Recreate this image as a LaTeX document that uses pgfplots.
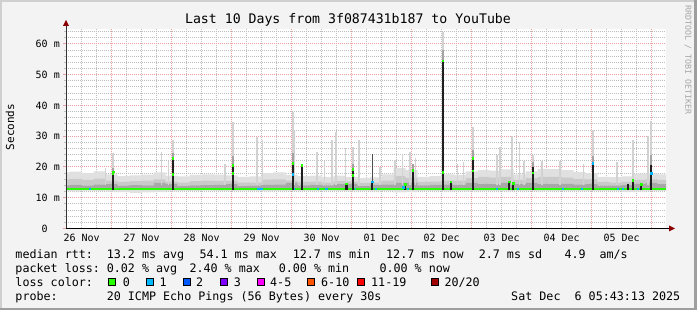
\documentclass[border=0pt]{standalone}
\usepackage{fontspec}
\setmainfont{DejaVu Sans Mono}
\usepackage{pgfplots}
\pgfplotsset{compat=1.18}
\usepackage{pgfplotstable}

\definecolor{bgc}{HTML}{F3F3F3}
\definecolor{shadeA}{HTML}{CFCFCF}
\definecolor{shadeB}{HTML}{9E9E9E}
\definecolor{mgrid}{HTML}{E8A0A0}
\definecolor{mingrid}{HTML}{BEBEBE}
\definecolor{arrowc}{HTML}{8B0000}
\definecolor{smokeA}{HTML}{E0E0E0}
\definecolor{smokeB}{HTML}{CACACA}
\definecolor{smokeC}{HTML}{A8A8A8}
\definecolor{spikeL}{HTML}{D2D2D2}
\definecolor{spikeD}{HTML}{A4A4A4}
\definecolor{lc0}{HTML}{26FF00}
\definecolor{lc1}{HTML}{00B8FF}
\definecolor{lc2}{HTML}{0059FF}
\definecolor{lc3}{HTML}{7E00FF}
\definecolor{lc4}{HTML}{FF00FF}
\definecolor{lc6}{HTML}{FF5500}
\definecolor{lc11}{HTML}{FF0000}
\definecolor{lc20}{HTML}{A10000}

\pgfplotstableread{
x    lo1   base  hi1   hi2   hi3
0.2  12.2  12.5  18.2  16.0  14.0
0.4  12.1  12.5  18.5  16.2  14.2
0.6  12.3  12.5  18.0  15.8  13.9
0.8  12.2  12.5  18.6  16.3  14.3
1.0  12.0  12.5  17.6  15.6  14.6
1.2  11.8  12.5  17.0  15.2  13.9
1.4  11.6  12.5  17.3  15.4  14.1
1.6  11.7  12.5  17.5  15.6  14.0
1.8  11.9  12.5  18.2  16.0  14.8
2.0  12.1  12.5  17.2  15.3  14.5
2.2  12.2  12.5  16.9  15.0  13.8
2.4  12.2  12.5  17.4  15.4  14.0
2.6  12.3  12.5  17.6  15.6  14.1
2.8  12.2  12.5  17.5  15.5  14.2
3.0  12.2  12.5  17.3  15.5  14.6
3.2  12.3  12.5  16.8  15.0  13.8
3.4  12.2  12.5  16.9  15.0  13.9
3.6  12.1  12.5  18.0  15.9  14.2
3.8  12.2  12.5  18.2  16.0  14.3
4.0  12.2  12.5  17.4  15.6  14.8
4.2  12.2  12.5  17.0  15.2  14.0
4.4  12.2  12.5  17.2  15.3  14.2
4.6  12.3  12.5  16.8  15.0  14.0
4.8  12.2  12.5  17.2  15.4  14.4
5.0  12.1  12.5  16.8  15.3  14.5
5.2  12.2  12.5  16.4  14.8  13.8
5.4  12.1  12.5  16.6  15.0  14.2
5.6  12.2  12.5  17.6  15.6  14.3
5.8  11.7  12.5  19.6  17.0  14.8
6.0  11.8  12.5  19.0  16.5  15.0
6.2  12.2  12.5  16.8  15.2  14.0
6.4  12.2  12.5  17.0  15.3  14.2
6.6  12.1  12.5  17.6  15.6  14.3
6.8  12.2  12.5  17.4  15.6  14.2
7.0  12.1  12.5  18.6  16.4  14.8
7.2  12.2  12.5  19.0  16.8  14.6
7.4  12.2  12.5  18.8  16.6  14.6
7.6  12.1  12.5  19.2  16.8  14.8
7.8  12.2  12.5  17.6  15.8  14.4
8.0  12.2  12.5  18.6  16.4  14.8
8.2  12.1  12.5  19.4  16.8  14.6
8.4  12.2  12.5  19.3  16.8  14.6
8.6  12.2  12.5  19.0  16.6  14.5
8.8  12.2  12.5  18.3  16.2  14.3
9.0  12.2  12.5  18.0  16.0  14.6
9.2  12.2  12.5  16.8  15.2  13.9
9.4  12.2  12.5  16.7  15.0  13.9
9.6  11.9  12.5  16.9  15.2  14.1
9.8  12.0  12.5  17.8  15.8  14.6
10.0 12.2  12.5  17.9  16.0  14.8
10.2 12.2  12.5  17.6  15.8  14.4
10.4 12.2  12.5  17.6  15.8  14.4
}\smoke

\newcommand{\lf}{\fontsize{11.7}{14}\selectfont}
\pgfplotsset{frameaxis/.style={
  at={(66pt,81.5pt)}, anchor=south west,
  scale only axis, width=600pt, height=200pt,
  xmin=0.2386, xmax=10.2386, ymin=0, ymax=65, clip=true}}

\begin{document}
\begin{tikzpicture}
\fill[bgc] (0pt,0pt) rectangle (697pt,310pt);
\fill[shadeA] (0pt,0pt) rectangle (2pt,310pt);
\fill[shadeA] (0pt,308pt) rectangle (697pt,310pt);
\fill[shadeB] (694pt,0pt) rectangle (697pt,310pt);
\fill[shadeB] (0pt,0pt) rectangle (697pt,2pt);

\begin{axis}[frameaxis,
  axis line style={draw=none},
  axis background/.style={fill=white},
  tick pos=left, tick align=outside,
  xtick={0.5,1.5,...,9.5},
  xticklabels={26 Nov,27 Nov,28 Nov,29 Nov,30 Nov,01 Dec,02 Dec,03 Dec,04 Dec,05 Dec},
  xtick style={draw=none},
  xmajorgrids=false, xminorgrids=true,
  minor xtick={0.25,0.5,0.75,1.25,1.5,1.75,2.25,2.5,2.75,3.25,3.5,3.75,4.25,4.5,4.75,5.25,5.5,5.75,6.25,6.5,6.75,7.25,7.5,7.75,8.25,8.5,8.75,9.25,9.5,9.75,10.25},
  extra x ticks={1,2,3,4,5,6,7,8,9,10},
  extra x tick labels={},
  extra x tick style={grid=major, major tick length=3pt, tick style={mgrid, line width=1pt}},
  ytick={0,10,20,30,40,50,60},
  yticklabels={0\phantom{ m},10 m,20 m,30 m,40 m,50 m,60 m},
  minor ytick={2,4,6,8,12,14,16,18,22,24,26,28,32,34,36,38,42,44,46,48,52,54,56,58,62,64},
  ymajorgrids=true, yminorgrids=true,
  major tick length=3pt, minor tick length=2pt,
  ytick style={mgrid, line width=1pt},
  minor y tick style={mingrid},
  major grid style={mgrid, line width=1pt, dash pattern=on 1pt off 1pt},
  minor grid style={mingrid, line width=1pt, dash pattern=on 1pt off 1pt},
  xticklabel style={font=\fontsize{10}{12}\selectfont, anchor=base, inner sep=0pt, yshift=-9.8pt},
  yticklabel style={font=\fontsize{10}{12}\selectfont, anchor=east, inner sep=0pt, xshift=-3pt},
  stack plots=y,
]
\addplot[draw=none, const plot mark mid] table[x=x,y=lo1]{\smoke};
\addplot[fill=smokeA, draw=none, const plot mark mid] table[x=x, y expr=\thisrow{base}-\thisrow{lo1}]{\smoke} \closedcycle;
\addplot[fill=smokeC, draw=none, const plot mark mid] table[x=x, y expr=\thisrow{hi3}-\thisrow{base}]{\smoke} \closedcycle;
\addplot[fill=smokeB, draw=none, const plot mark mid] table[x=x, y expr=\thisrow{hi2}-\thisrow{hi3}]{\smoke} \closedcycle;
\addplot[fill=smokeA, draw=none, const plot mark mid] table[x=x, y expr=\thisrow{hi1}-\thisrow{hi2}]{\smoke} \closedcycle;
\end{axis}

\begin{axis}[frameaxis, hide axis]
\addplot[spikeL, line width=1.5pt, unbounded coords=jump] coordinates {
(0.90,14)(0.90,19.5)(0.90,nan)
(1.018,14)(1.018,24.4)(1.018,nan)
(1.83,14)(1.83,24.9)(1.83,nan)
(1.95,14)(1.95,22)(1.95,nan)
(2.018,14)(2.018,28.7)(2.018,nan)
(2.89,14)(2.89,21)(2.89,nan)
(3.018,14)(3.018,34.5)(3.018,nan)
(3.42,14)(3.42,29.8)(3.42,nan)
(3.51,14)(3.51,28.7)(3.51,nan)
(4.018,14)(4.018,38.0)(4.018,nan)
(4.05,14)(4.05,32)(4.05,nan)
(4.42,14)(4.42,24.9)(4.42,nan)
(4.55,14)(4.55,22)(4.55,nan)
(4.67,14)(4.67,28.7)(4.67,nan)
(4.74,14)(4.74,31.5)(4.74,nan)
(4.90,14)(4.90,26.3)(4.90,nan)
(5.018,14)(5.018,26.6)(5.018,nan)
(5.12,14)(5.12,28.7)(5.12,nan)
(5.47,14)(5.47,20)(5.47,nan)
(5.72,14)(5.72,22.2)(5.72,nan)
(5.85,14)(5.85,24.2)(5.85,nan)
(5.97,14)(5.97,24.9)(5.97,nan)
(6.06,14)(6.06,23)(6.06,nan)
(6.518,14)(6.518,64)(6.518,nan)
(6.76,14)(6.76,21)(6.76,nan)
(6.86,14)(6.86,21.5)(6.86,nan)
(7.018,14)(7.018,33)(7.018,nan)
(7.42,14)(7.42,24)(7.42,nan)
(7.47,14)(7.47,26.6)(7.47,nan)
(7.67,14)(7.67,30)(7.67,nan)
(7.80,14)(7.80,28)(7.80,nan)
(7.87,14)(7.87,22)(7.87,nan)
(8.018,14)(8.018,23.9)(8.018,nan)
(8.17,14)(8.17,22)(8.17,nan)
(8.47,14)(8.47,22)(8.47,nan)
(8.86,14)(8.86,21)(8.86,nan)
(9.018,14)(9.018,32)(9.018,nan)
(9.42,14)(9.42,21.5)(9.42,nan)
(9.685,14)(9.685,28.7)(9.685,nan)
(9.94,14)(9.94,30)(9.94,nan)
(9.99,14)(9.99,35)(9.99,nan)
};
\addplot[spikeD, line width=2pt, unbounded coords=jump] coordinates {
(1.018,14)(1.018,19.8)(1.018,nan)
(2.018,14)(2.018,24.5)(2.018,nan)
(3.018,14)(3.018,23.5)(3.018,nan)
(4.018,14)(4.018,24.5)(4.018,nan)
(5.018,14)(5.018,21)(5.018,nan)
(6.017,14)(6.017,20.8)(6.017,nan)
(6.518,14)(6.518,58)(6.518,nan)
(7.018,14)(7.018,25.5)(7.018,nan)
(8.018,14)(8.018,21.5)(8.018,nan)
(9.018,14)(9.018,23.5)(9.018,nan)
(9.99,14)(9.99,24)(9.99,nan)
};
\addplot[black!70, line width=1pt] coordinates {(5.342,15)(5.342,24.2)};

\addplot[lc0, line width=2.2pt] coordinates {(0.2386,12.9)(10.2386,12.9)};
\addplot[lc1, line width=2.2pt, unbounded coords=jump] coordinates {
(0.62,12.9)(0.66,12.9)(0.66,nan)
(3.42,12.9)(3.52,12.9)(3.52,nan)
(4.02,12.9)(4.06,12.9)(4.06,nan)
(4.42,12.9)(4.46,12.9)(4.46,nan)
(4.55,12.9)(4.60,12.9)(4.60,nan)
(5.05,12.9)(5.08,12.9)(5.08,nan)
(5.39,12.9)(5.42,12.9)(5.42,nan)
(5.92,12.9)(5.96,12.9)(5.96,nan)
(7.40,12.9)(7.44,12.9)(7.44,nan)
(7.76,12.9)(7.79,12.9)(7.79,nan)
(8.50,12.9)(8.54,12.9)(8.54,nan)
(8.83,12.9)(8.86,12.9)(8.86,nan)
(9.42,12.9)(9.45,12.9)(9.45,nan)
(9.51,12.9)(9.54,12.9)(9.54,nan)
(9.76,12.9)(9.79,12.9)(9.79,nan)
};

\addplot[black!88, line width=2.4pt, unbounded coords=jump] coordinates {
(1.018,12.4)(1.018,17.9)(1.018,nan)
(2.018,12.4)(2.018,22.8)(2.018,nan)
(3.018,12.4)(3.018,20.6)(3.018,nan)
(4.018,12.4)(4.018,21.2)(4.018,nan)
(4.168,12.4)(4.168,20.6)(4.168,nan)
(4.913,12.4)(4.913,14.6)(4.913,nan)
(5.018,12.4)(5.018,19.2)(5.018,nan)
(5.342,12.4)(5.342,15.2)(5.342,nan)
(5.888,12.4)(5.888,14.5)(5.888,nan)
(6.017,12.4)(6.017,19.0)(6.017,nan)
(6.518,12.4)(6.518,54.5)(6.518,nan)
(6.652,12.4)(6.652,15.2)(6.652,nan)
(7.018,12.4)(7.018,23.2)(7.018,nan)
(7.622,12.4)(7.622,15.2)(7.622,nan)
(7.688,12.4)(7.688,14.8)(7.688,nan)
(8.018,12.4)(8.018,20.0)(8.018,nan)
(9.018,12.4)(9.018,21.2)(9.018,nan)
(9.605,12.4)(9.605,14.3)(9.605,nan)
(9.685,12.4)(9.685,15.7)(9.685,nan)
(9.820,12.4)(9.820,14.5)(9.820,nan)
(9.990,12.4)(9.990,20.6)(9.990,nan)
};
\addplot[only marks, mark=square*, mark size=0.85pt, lc0] coordinates {
(1.018,17.9)(1.030,18.5)(2.018,22.8)(2.018,17.7)(3.018,20.6)(3.018,17.9)
(4.168,20.6)(4.913,14.6)(5.018,19.2)(5.018,17.4)(5.888,14.5)(6.017,19.0)
(6.518,54.5)(6.518,18.4)(6.652,15.2)(7.018,22.8)(7.018,18.8)(7.622,15.2)
(7.688,14.8)(8.018,18.1)(9.685,15.7)(9.820,14.5)(4.018,21.2)
};
\addplot[only marks, mark=square*, mark size=0.85pt, lc1] coordinates {
(4.018,17.7)(5.342,15.2)(9.018,21.2)(9.990,18.0)(5.860,13.4)
};
\end{axis}

\draw[black!80, line width=1pt] (66pt,81.5pt) -- (66pt,286pt);
\fill[arrowc] (63pt,284pt) -- (69pt,284pt) -- (66pt,290pt) -- cycle;
\draw[black, line width=1pt] (66pt,81.5pt) -- (671pt,81.5pt);
\fill[arrowc] (669pt,78.5pt) -- (669pt,84.5pt) -- (675pt,81.5pt) -- cycle;

\node[anchor=base, inner sep=0pt, font=\fontsize{13.2}{15}\selectfont] at (348pt,286pt) {Last 10 Days from 3f087431b187 to YouTube};
\node[rotate=90, inner sep=0pt, font=\fontsize{11}{13}\selectfont] at (10pt,183pt) {Seconds};
\node[rotate=-90, inner sep=0pt, text=black!35, font=\fontsize{8.3}{10}\selectfont] at (688pt,250pt) {RRDTOOL / TOBI OETIKER};

\begin{scope}[every node/.style={anchor=base west, inner sep=0pt, font=\lf}]
\node at (15.3pt,51.7pt) {median rtt:};
\node at (106.6pt,51.7pt) {13.2 ms avg};
\node at (199.3pt,51.7pt) {54.1 ms max};
\node at (292.6pt,51.7pt) {12.7 ms min};
\node at (386pt,51.7pt) {12.7 ms now};
\node at (478.6pt,51.7pt) {2.7 ms sd};
\node at (564.3pt,51.7pt) {4.9};
\node at (599.3pt,51.7pt) {am/s};
\node at (15.3pt,37.7pt) {packet loss:};
\node at (106.6pt,37.7pt) {0.02 \% avg};
\node at (189.3pt,37.7pt) {2.40 \% max};
\node at (278.6pt,37.7pt) {0.00 \% min};
\node at (379.3pt,37.7pt) {0.00 \% now};
\node at (15.3pt,23.7pt) {loss color:};
\node at (122.6pt,23.7pt) {0};
\node at (159.3pt,23.7pt) {1};
\node at (196pt,23.7pt) {2};
\node at (233.6pt,23.7pt) {3};
\node at (270pt,23.7pt) {4-5};
\node at (321pt,23.7pt) {6-10};
\node at (371pt,23.7pt) {11-19};
\node at (444.3pt,23.7pt) {20/20};
\node at (15.3pt,9.7pt) {probe:};
\node at (106.6pt,9.7pt) {20 ICMP Echo Pings (56 Bytes) every 30s};
\node[anchor=base east] at (680.5pt,9.7pt) {Sat Dec\ \ 6 05:43:13 2025};
\end{scope}
\begin{scope}[line width=1pt, draw=black]
\filldraw[fill=lc0] (108.8pt,24.5pt) rectangle (115.8pt,31.5pt);
\filldraw[fill=lc1] (146.2pt,24.5pt) rectangle (153.2pt,31.5pt);
\filldraw[fill=lc2] (183.2pt,24.5pt) rectangle (190.2pt,31.5pt);
\filldraw[fill=lc3] (220.2pt,24.5pt) rectangle (227.2pt,31.5pt);
\filldraw[fill=lc4] (257.2pt,24.5pt) rectangle (264.2pt,31.5pt);
\filldraw[fill=lc6] (307.2pt,24.5pt) rectangle (314.2pt,31.5pt);
\filldraw[fill=lc11] (357.2pt,24.5pt) rectangle (364.2pt,31.5pt);
\filldraw[fill=lc20] (431.2pt,24.5pt) rectangle (438.2pt,31.5pt);
\end{scope}
\end{tikzpicture}
\end{document}
